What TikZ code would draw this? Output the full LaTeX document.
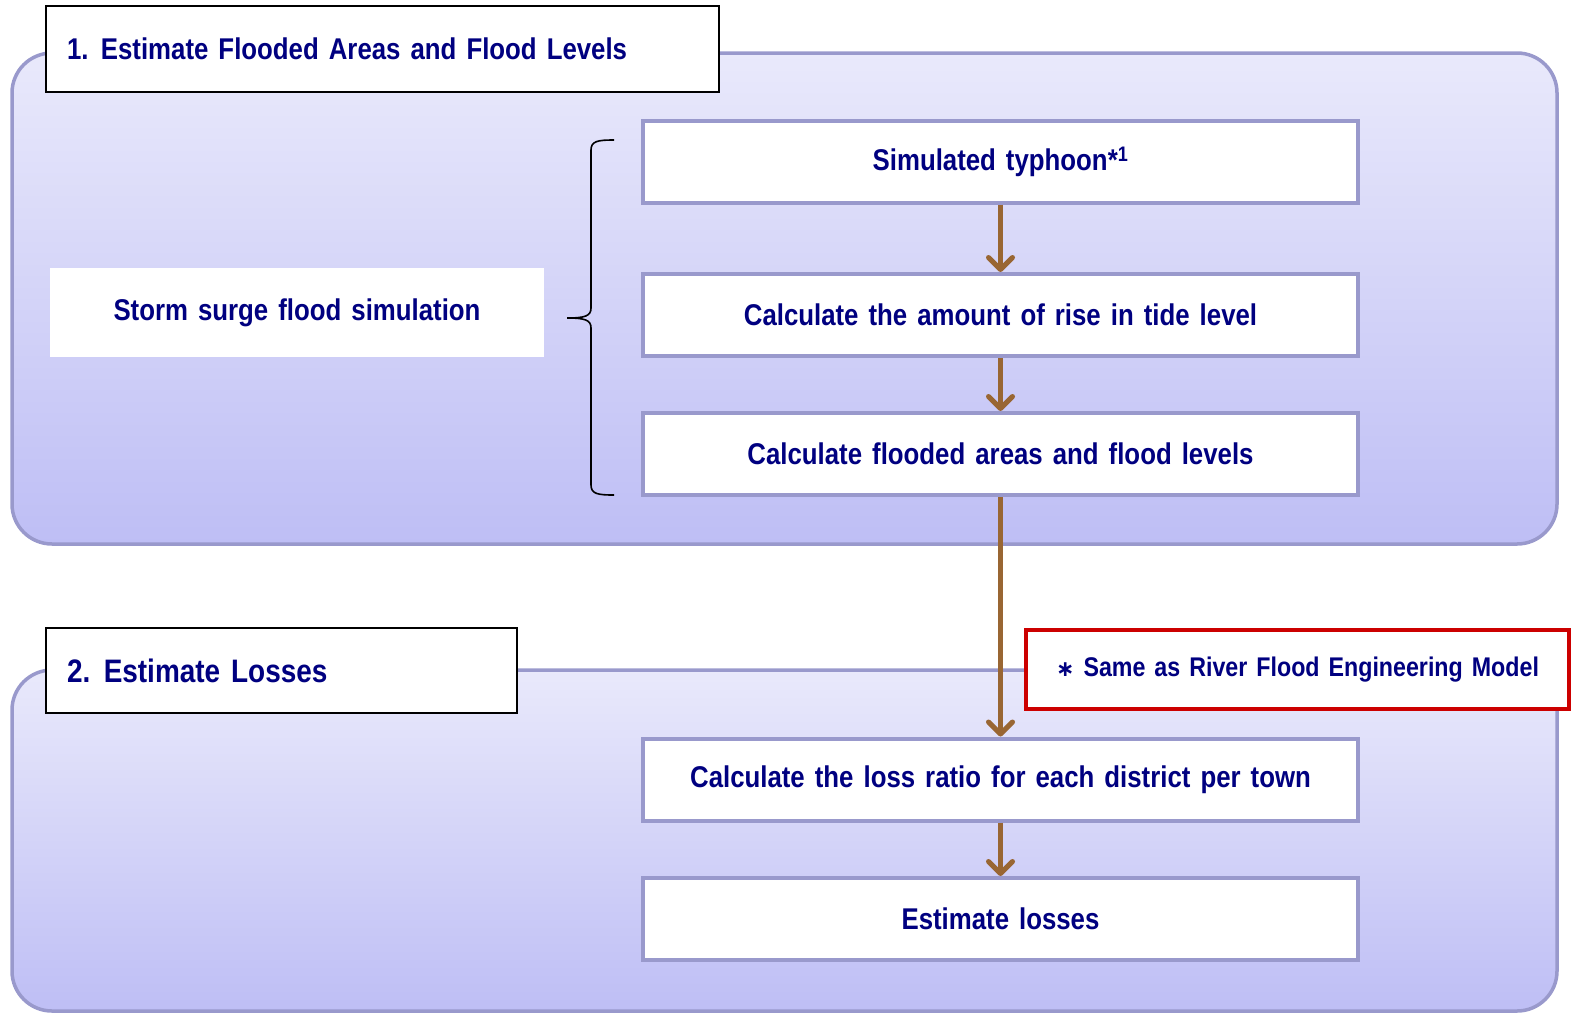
\documentclass[tikz,border=0pt]{standalone}
\usepackage{fontspec}
\setmainfont[FakeStretch=0.86,WordSpace=1.4]{Liberation Sans}
\newfontfamily\symfont{DejaVu Sans}
\usetikzlibrary{arrows.meta}
\definecolor{navy}{RGB}{0,0,128}
\definecolor{panelline}{RGB}{153,153,204}
\definecolor{paneltop}{RGB}{233,233,251}
\definecolor{panelbot}{RGB}{190,190,245}
\definecolor{flowbrown}{RGB}{153,102,51}
\definecolor{notered}{RGB}{204,0,0}
\begin{document}
\begin{tikzpicture}[x=1pt,y=-1pt,
  panel/.style={draw=panelline,line width=3.5pt,rounded corners=40pt,
    top color=paneltop,bottom color=panelbot},
  titlebox/.style={draw=black,line width=2.5pt,fill=white,text=navy,
    inner xsep=21pt,inner ysep=0pt,font=\bfseries\fontsize{30}{34}\selectfont},
  stepbox/.style={draw=panelline,line width=4pt,fill=white,text=navy,
    minimum width=715pt,minimum height=82pt,inner sep=0pt,
    font=\bfseries\fontsize{30}{34}\selectfont},
  flow/.style={draw=flowbrown,line width=5pt,
    -{Straight Barb[length=12pt,width=24pt,line width=5pt,round]}},
  brace/.style={draw=black,line width=1.6pt}]
\useasboundingbox (0,0) rectangle (1573,1015);

% section 1 panel
\path[panel] (12,53) rectangle (1557,544);
\node[titlebox,minimum height=86pt] (t1) at (382.5,49)
  {\makebox[631pt][l]{1. Estimate Flooded Areas and Flood Levels}};

\node[fill=white,text=navy,minimum width=494pt,minimum height=89pt,inner sep=0pt,
  font=\bfseries\fontsize{30}{34}\selectfont] (storm) at (297,312.5)
  {Storm surge flood simulation};

% curly brace grouping the simulation steps
\draw[brace] (614,140) .. controls (598,140) and (591,141) .. (591,150)
  -- (591,308) .. controls (591,316) and (585,318) .. (567,318)
  .. controls (585,318) and (591,320) .. (591,328)
  -- (591,485) .. controls (591,494) and (598,495) .. (614,495);

\node[stepbox] (s1) at (1000.5,161.5) {Simulated typhoon*\textsuperscript{1}};
\node[stepbox] (s2) at (1000.5,315) {Calculate the amount of rise in tide level};
\node[stepbox] (s3) at (1000.5,454) {Calculate flooded areas and flood levels};

% section 2 panel
\path[panel] (12,670) rectangle (1557,1011);
\node[titlebox,minimum height=85pt,
  font=\bfseries\fontsize{32.5}{36}\selectfont] (t2) at (281.5,670.5)
  {\makebox[429pt][l]{2. Estimate Losses}};

\node[draw=notered,line width=4.5pt,fill=white,text=navy,minimum width=543pt,
  minimum height=79pt,inner sep=0pt,font=\bfseries\fontsize{27}{32}\selectfont]
  (note) at (1297.5,669.5) {{\symfont\fontsize{22}{26}\selectfont ∗} Same as River Flood Engineering Model};

\node[stepbox] (s4) at (1000.5,779.5) {Calculate the loss ratio for each district per town};
\node[stepbox] (s5) at (1000.5,919) {Estimate losses};

% process flow
\draw[flow] (s1) -- (s2);
\draw[flow] (s2) -- (s3);
\draw[flow] (s3) -- (s4);
\draw[flow] (s4) -- (s5);
\end{tikzpicture}
\end{document}
